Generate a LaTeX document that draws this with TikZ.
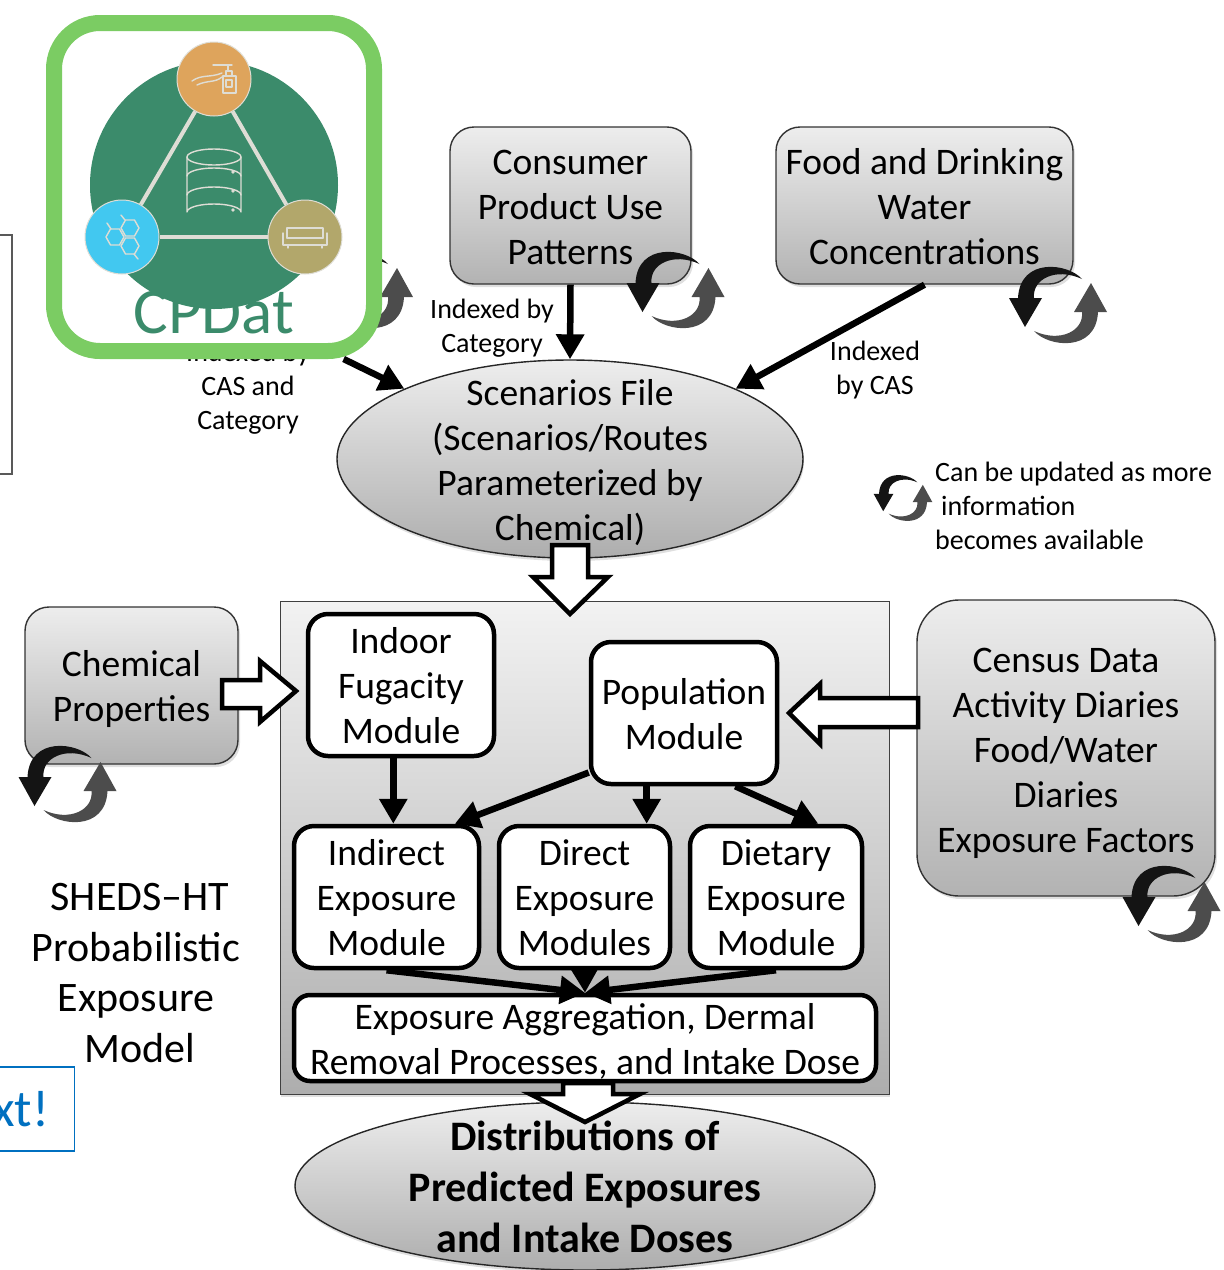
\documentclass[tikz,border=0pt]{standalone}
\usepackage{fontspec}
\setmainfont{Carlito}
\usetikzlibrary{shapes.geometric,arrows.meta,shadows}
\definecolor{cpgreen}{HTML}{3B8B6B}
\definecolor{cpframe}{HTML}{7BCC63}
\definecolor{cpline}{HTML}{DEDDD5}
\definecolor{cporange}{HTML}{DEA45C}
\definecolor{cpblue}{HTML}{42C8F0}
\definecolor{cpolive}{HTML}{B2A76B}
\definecolor{slideblue}{HTML}{0070C0}
\newcommand{\tdrop}[1]{\rule{0pt}{#1pt}}
\tikzstyle{every node}=[inner sep=0pt, align=center, text=black]
\tikzstyle{bigtext}=[font=\fontsize{37.5}{45}\selectfont]
\tikzstyle{smalltext}=[font=\fontsize{28}{34}\selectfont]
\tikzstyle{inputbox}=[bigtext, draw=black!80, line width=1.4pt, rounded corners=24pt, top color=black!7, bottom color=black!30, drop shadow={shadow xshift=2pt, shadow yshift=-3pt, opacity=0.25}]
\tikzstyle{fileoval}=[bigtext, ellipse, draw=black!85, line width=1.4pt, top color=black!7, bottom color=black!32, drop shadow={shadow xshift=1pt, shadow yshift=-3pt, opacity=0.25}]
\tikzstyle{module}=[bigtext, draw=black, fill=white, line width=4.5pt, rounded corners=20pt]
\tikzstyle{link}=[-{Triangle[length=25pt,width=27pt]}, line width=6.5pt, black]
\tikzstyle{blockarrow}=[draw=black, fill=white, line width=4.5pt, miter limit=6]
\tikzstyle{iconline}=[draw=cpline, line width=1.4pt, line join=round, line cap=round]
\tikzstyle{iconcircle}=[circle, minimum size=74pt, draw=cpline, line width=1pt]
\tikzset{
  recycle/.pic={
    \fill[black!92] (24,-26) .. controls (10,-42) and (-38,-48) .. (-40,-7) -- (-49,-7) -- (-33,22) -- (-16,-7) -- (-24,-7) .. controls (-26,-26) and (-2,-38) .. (24,-26) -- cycle;
    \fill[black!70] (-24,26) .. controls (-10,42) and (38,48) .. (40,7) -- (49,7) -- (33,-22) -- (16,7) -- (24,7) .. controls (26,26) and (2,38) .. (-24,26) -- cycle;
  }
}

\begin{document}
\begin{tikzpicture}[x=1pt, y=-1pt]
\useasboundingbox (0,0) rectangle (1224,1270);
% Left-over slide boxes
    \draw[black!65, line width=1.2pt] (-5,235) rectangle (12,474);
    \node[anchor=east, draw=slideblue, line width=1.3pt, text=slideblue, minimum height=84pt, inner xsep=25pt, font=\fontsize{52}{54}\selectfont] (nextbox) at (75,1109) {xt!};
% Inputs
    \node[inputbox, minimum width=241pt, minimum height=157pt] (consumer) at (570.5,205.5) {\tdrop{28}Consumer\\Product Use\\Patterns};
    \node[inputbox, minimum width=297pt, minimum height=157pt] (food) at (924.5,205.5) {\tdrop{28}Food and Drinking\\Water\\Concentrations};
    \node[inputbox, minimum width=213pt, minimum height=157pt] (chemprops) at (131.5,685.5) {\tdrop{34}Chemical\\Properties};
    \node[inputbox, minimum width=298pt, minimum height=296pt, rounded corners=42pt] (census) at (1066,748) {\tdrop{36}Census Data\\Activity Diaries\\Food/Water\\Diaries\\Exposure Factors};
    \node[fileoval, minimum width=466pt, minimum height=198pt, inner ysep=-30pt] (scenarios) at (570,459) {\tdrop{34}Scenarios File\\(Scenarios/Routes\\Parameterized by\\Chemical)};
% Labels behind the logo
    \node[smalltext] (indexedboth) at (248,388) {Indexed by\\CAS and\\Category};
    \pic at (364,290) {recycle};
% Logo
    \node[draw=cpframe, fill=white, line width=16pt, rounded corners=46pt, minimum width=320pt, minimum height=328pt] (cpdat) at (214,187) {};
    \fill[cpgreen] (214,185) circle (124);
    \node[iconcircle, fill=cporange] (hand) at (214,79) {};
    \node[iconcircle, fill=cpblue] (molecule) at (122,237) {};
    \node[iconcircle, fill=cpolive] (sofa) at (305,237) {};
    \draw[cpline, line width=4pt] (hand) -- (molecule);
    \draw[cpline, line width=4pt] (hand) -- (sofa);
    \draw[cpline, line width=4pt] (molecule) -- (sofa);
    \node[text=cpgreen, font=\fontsize{65}{70}\selectfont] (cpdatname) at (214,313) {CPDat};
% Database
    \draw[iconline] (187,157) -- (187,212) arc[start angle=180, end angle=0, x radius=27, y radius=-8] -- (241,157);
    \draw[iconline] (214,157) ellipse (27 and 8);
    \draw[iconline] (187,176) arc[start angle=180, end angle=0, x radius=27, y radius=-8];
    \draw[iconline] (187,195) arc[start angle=180, end angle=0, x radius=27, y radius=-8];
    \fill[cpline] (233,172) circle (1.8);
    \fill[cpline] (233,191) circle (1.8);
    \fill[cpline] (233,210) circle (1.8);
% Bottle and hand
    \draw[iconline] (223,76) rectangle (236,93);
    \draw[iconline] (226,80) rectangle (232,87);
    \draw[iconline] (226,76) -- (226,71) -- (232,71) -- (232,76);
    \draw[iconline] (213,65) -- (232,65);
    \draw[iconline] (228,65) -- (228,71);
    \draw[iconline] (192,81) .. controls (202,74) and (210,78) .. (222,73);
    \draw[iconline] (197,85) .. controls (207,80) and (215,83) .. (222,77);
% Hexagons
    \foreach \hx/\hy in {130/228, 115/237, 130/246}{
      \draw[iconline] (\hx-9,\hy) -- (\hx-4.5,\hy-8) -- (\hx+4.5,\hy-8) -- (\hx+9,\hy) -- (\hx+4.5,\hy+8) -- (\hx-4.5,\hy+8) -- cycle;
    }
    \draw[iconline] (125,220) -- (121,215);
    \draw[iconline] (111,229) -- (107,223);
    \draw[iconline] (134,254) -- (138,259);
% Sofa
    \draw[iconline] (287,238) -- (287,228) -- (323,228) -- (323,238);
    \draw[iconline] (283,233) -- (283,245) -- (327,245) -- (327,233);
    \draw[iconline] (287,238) -- (323,238);
    \draw[iconline] (288,245) -- (288,248);
    \draw[iconline] (322,245) -- (322,248);
% Other labels
    \node[smalltext] (indexedcat) at (492,328.5) {Indexed by\\Category};
    \node[smalltext] (indexedcas) at (875,370.5) {Indexed\\by CAS};
    \node[smalltext, align=left, anchor=west] (legend) at (935,506) {Can be updated as more\\\hspace*{6pt}information\\becomes available};
    \node[font=\fontsize{42}{50.5}\selectfont] (shedsname) at (136,973) {\hspace*{8pt}SHEDS--HT\\Probabilistic\\Exposure\\\hspace*{8pt}Model};
% Inputs to scenarios
    \draw[link] (consumer.south) -- (scenarios.north);
    \draw[link] (food.south) -- (scenarios.23);
    \draw[link] (cpdat.-53) -- (scenarios.157);
% Model panel
    \node[draw=black!75, line width=1pt, top color=black!5, bottom color=black!32, minimum width=609pt, minimum height=493pt, drop shadow={shadow xshift=1pt, shadow yshift=-3pt, opacity=0.25}] (panel) at (584.5,847.5) {};
    \node[module, minimum width=186pt, minimum height=142pt] (fugacity) at (401,685) {\tdrop{28}Indoor\\Fugacity\\Module};
    \node[module, minimum width=186pt, minimum height=142pt] (population) at (684,713) {\tdrop{28}Population\\Module};
    \node[module, minimum width=185pt, minimum height=142pt] (indirect) at (386.5,897) {\tdrop{28}Indirect\\Exposure\\Module};
    \node[module, minimum width=171pt, minimum height=142pt] (direct) at (584.5,897) {\tdrop{28}Direct\\Exposure\\Modules};
    \node[module, minimum width=172pt, minimum height=142pt] (dietary) at (776,897) {\tdrop{28}Dietary\\Exposure\\Module};
    \node[module, minimum width=582pt, minimum height=86pt, rounded corners=16pt] (aggregation) at (585,1038) {\tdrop{33}Exposure Aggregation, Dermal\\Removal Processes, and Intake Dose};
% Links between modules
    \draw[link] (fugacity.-96) -- (fugacity.-96 |- indirect.north);
    \draw[link] (population.-148) -- (indirect.47);
    \draw[link] (population.-117) -- (population.-117 |- direct.north);
    \draw[link] (population.-55) -- (dietary.60);
    \draw[link] (indirect.south) -- (aggregation.north);
    \draw[link] (direct.south) -- (aggregation.north);
    \draw[link] (dietary.south) -- (aggregation.north);
% Result
    \node[fileoval, minimum width=580pt, minimum height=168pt, inner ysep=-30pt, font=\fontsize{42}{51}\selectfont\bfseries] (distributions) at (585,1186) {\tdrop{32}Distributions of\\Predicted Exposures\\and Intake Doses};
% Block arrows
    \draw[blockarrow] (552,545) -- (588,545) -- (588,577) -- (608,577) -- (570,614) -- (533,577) -- (552,577) -- cycle;
    \draw[blockarrow] (222,680) -- (260,680) -- (260,661) -- (296,691) -- (260,722) -- (260,708) -- (222,708) -- cycle;
    \draw[blockarrow] (918,698) -- (820,698) -- (820,684) -- (789,713) -- (820,744) -- (820,727) -- (918,727) -- cycle;
    \draw[blockarrow] (563,1083) -- (613,1083) -- (613,1094) -- (640,1094) -- (585,1122) -- (530,1094) -- (563,1094) -- cycle;
% Update icons
    \pic at (675.5,290) {recycle};
    \pic at (1058,305) {recycle};
    \pic at (67.5,784) {recycle};
    \pic at (1171.5,904) {recycle};
    \pic[scale=0.6] at (903,498) {recycle};
\end{tikzpicture}
\end{document}
